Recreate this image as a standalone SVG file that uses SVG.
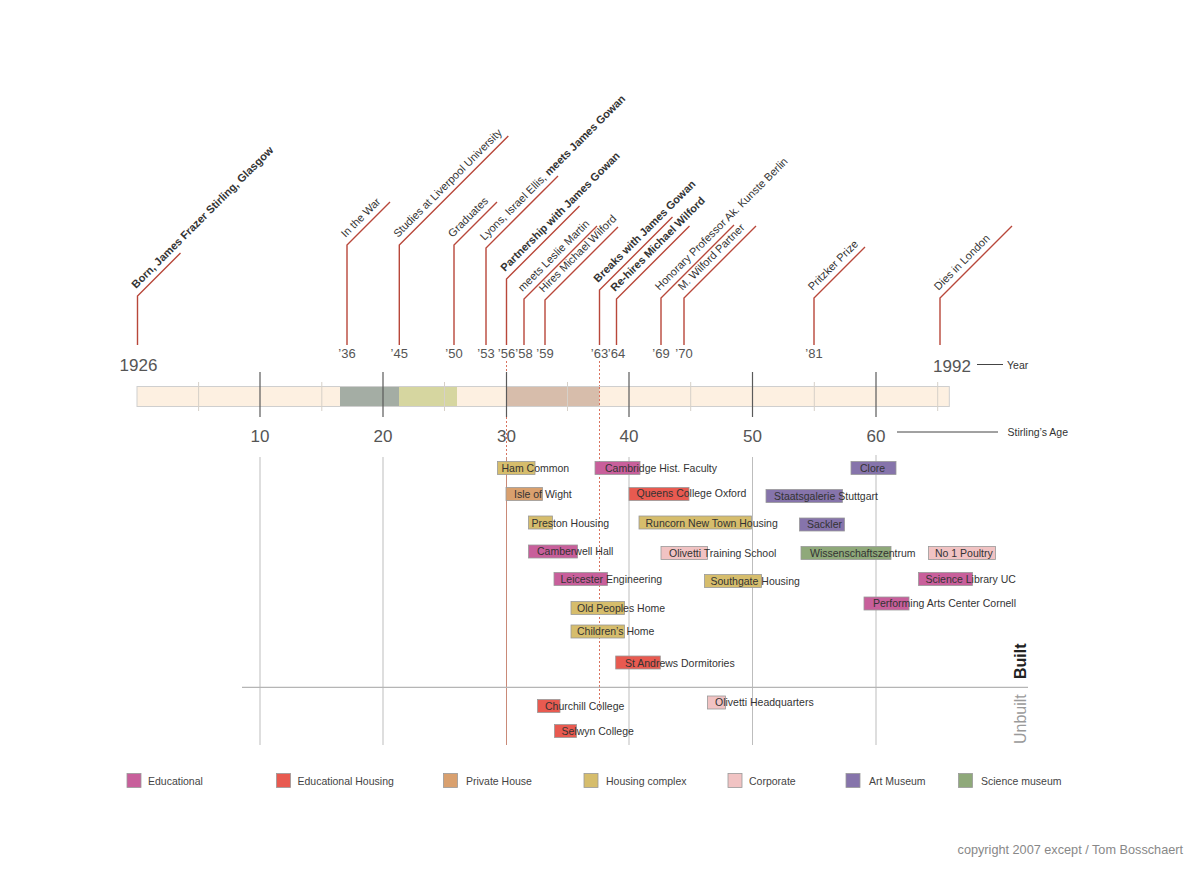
<svg xmlns="http://www.w3.org/2000/svg" width="1200" height="873" viewBox="0 0 1200 873">
<style>
text{font-family:"Liberation Sans",Arial,sans-serif;}
.ev{font-size:11px;fill:#333;}
.b{font-weight:bold;}
.lead{fill:none;stroke:#b8473a;stroke-width:1.4;}
.yr{font-size:13px;fill:#555;text-anchor:middle;}
.big{font-size:17px;fill:#555;text-anchor:middle;}
.lbl{font-size:10.5px;fill:#333;}
.grid{stroke:#bdbdbd;stroke-width:1;}
.tick{stroke:#5a5a5a;stroke-width:1.2;}
.mtick{stroke:#d6d0c8;stroke-width:1;}
.dash{stroke:#d9735f;stroke-width:1;stroke-dasharray:2 2;fill:none;}
.bar{stroke:#9a9a9a;stroke-width:0.8;}
.edu{fill:#c85f9b;}
.eduh{fill:#e85a50;}
.priv{fill:#d9a06e;}
.hous{fill:#d6bd6c;}
.corp{fill:#f1c3c3;}
.art{fill:#8674ab;}
.sci{fill:#8fa97a;}
.leg{font-size:10.5px;fill:#444;}
</style>

<!-- timeline axis -->
<g id="timeline">
  <line class="dash" x1="506.5" y1="361" x2="506.5" y2="458"/>
  <line class="dash" x1="599.5" y1="361" x2="599.5" y2="712"/>
  <rect x="137" y="386.5" width="812.3" height="20" fill="#fdf0e1" stroke="#cfcfcf" stroke-width="1"/>
  <rect x="340" y="387" width="59" height="19" fill="#a4ada4"/>
  <rect x="399" y="387" width="58" height="19" fill="#d6d6a0"/>
  <rect x="506.5" y="387" width="93" height="19" fill="#d7bdab"/>
  <g class="mtick">
    <line x1="198.6" y1="382" x2="198.6" y2="411"/>
    <line x1="321.8" y1="382" x2="321.8" y2="411"/>
    <line x1="444.5" y1="382" x2="444.5" y2="411"/>
    <line x1="567.5" y1="382" x2="567.5" y2="411"/>
    <line x1="690.7" y1="382" x2="690.7" y2="411"/>
    <line x1="814.3" y1="382" x2="814.3" y2="411"/>
    <line x1="937.7" y1="382" x2="937.7" y2="411"/>
  </g>
  <line class="dash" x1="599.5" y1="387" x2="599.5" y2="406"/>
  <g class="tick">
    <line x1="260" y1="372" x2="260" y2="417"/>
    <line x1="383" y1="372" x2="383" y2="417"/>
    <line x1="506.5" y1="372" x2="506.5" y2="417"/>
    <line x1="629" y1="372" x2="629" y2="417"/>
    <line x1="752.5" y1="372" x2="752.5" y2="417"/>
    <line x1="876" y1="372" x2="876" y2="417"/>
  </g>
  <text class="big" x="138.5" y="371">1926</text>
  <text class="big" x="952" y="371.5">1992</text>
  <line x1="977" y1="364.5" x2="1003" y2="364.5" stroke="#444" stroke-width="1"/>
  <text x="1007" y="368.5" font-size="10.5" fill="#333">Year</text>
  <text class="big" x="260" y="441.5">10</text>
  <text class="big" x="383" y="441.5">20</text>
  <text class="big" x="506.5" y="441.5">30</text>
  <text class="big" x="629" y="441.5">40</text>
  <text class="big" x="752.5" y="441.5">50</text>
  <text class="big" x="876" y="441.5">60</text>
  <line x1="897" y1="432" x2="998" y2="432" stroke="#444" stroke-width="1"/>
  <text x="1007.5" y="435.5" font-size="10.5" fill="#333">Stirling’s Age</text>
</g>

<!-- grid below -->
<g id="grid">
  <line class="grid" x1="260" y1="457" x2="260" y2="745"/>
  <line class="grid" x1="383" y1="457" x2="383" y2="745"/>
  <line x1="506.5" y1="457" x2="506.5" y2="745" stroke="#c98a78" stroke-width="1"/>
  <line class="grid" x1="629" y1="457" x2="629" y2="745"/>
  <line class="grid" x1="752.5" y1="457" x2="752.5" y2="745"/>
  <line class="grid" x1="876" y1="455" x2="876" y2="745"/>
  <line x1="242" y1="687.3" x2="1028" y2="687.3" stroke="#b5b5b5" stroke-width="1.2"/>
  <text transform="translate(1026,679) rotate(-90)" font-size="16" font-weight="bold" fill="#222">Built</text>
  <text transform="translate(1025.5,744) rotate(-90)" font-size="16" fill="#9a9a9a">Unbuilt</text>
</g>

<!-- event leader lines -->
<g id="connectors" class="lead">
  <path d="M137.5,345 V296 L180.5,253"/>
  <path d="M347,345 V245 L390,202"/>
  <path d="M399.3,345 V245 L508.3,136"/>
  <path d="M454,345 V245 L497,202"/>
  <path d="M486,345 V248 L558,176"/>
  <path d="M506.5,345 V279 L579.5,206"/>
  <path d="M524,345 V299 L597,226"/>
  <path d="M545,345 V300 L618,227"/>
  <path d="M599.5,345 V290 L672.5,217"/>
  <path d="M616.5,345 V299 L689.5,226"/>
  <path d="M661,345 V298 L734,225"/>
  <path d="M684,345 V298 L756,226"/>
  <path d="M814,345 V298 L865,247"/>
  <path d="M940,345 V298 L1012,226"/>
</g>

<!-- events -->
<g id="ev1926"><text class="ev b" transform="translate(136.1,288.9) rotate(-45)">Born, James Frazer Stirling, Glasgow</text></g>
<g id="ev36"><text class="ev" transform="translate(345.6,237.9) rotate(-45)">In the War</text><text class="yr" x="347" y="358">’36</text></g>
<g id="ev45"><text class="ev" transform="translate(397.9,237.9) rotate(-45)">Studies at Liverpool University</text><text class="yr" x="399.3" y="358">’45</text></g>
<g id="ev50"><text class="ev" transform="translate(452.6,237.9) rotate(-45)">Graduates</text><text class="yr" x="454" y="358">’50</text></g>
<g id="ev53"><text class="ev" transform="translate(484.6,240.9) rotate(-45)">Lyons, Israel Ellis, <tspan class="b">meets James Gowan</tspan></text><text class="yr" x="486" y="358">’53</text></g>
<g id="ev56"><text class="ev b" transform="translate(505.1,271.9) rotate(-45)">Partnership with James Gowan</text><text class="yr" x="506.5" y="358">’56</text></g>
<g id="ev58"><text class="ev" transform="translate(522.6,291.9) rotate(-45)">meets Leslie Martin</text><text class="yr" x="524" y="358">’58</text></g>
<g id="ev59"><text class="ev" transform="translate(543.6,292.9) rotate(-45)">Hires Michael Wilford</text><text class="yr" x="545" y="358">’59</text></g>
<g id="ev63"><text class="ev b" transform="translate(598.1,282.9) rotate(-45)">Breaks with James Gowan</text><text class="yr" x="599.5" y="358">’63</text></g>
<g id="ev64"><text class="ev b" transform="translate(615.1,291.9) rotate(-45)">Re-hires Michael Wilford</text><text class="yr" x="616.5" y="358">’64</text></g>
<g id="ev69"><text class="ev" transform="translate(659.6,290.9) rotate(-45)">Honorary Professor Ak. Kunste Berlin</text><text class="yr" x="661" y="358">’69</text></g>
<g id="ev70"><text class="ev" transform="translate(682.6,290.9) rotate(-45)">M. Wilford Partner</text><text class="yr" x="684" y="358">’70</text></g>
<g id="ev81"><text class="ev" transform="translate(812.6,290.9) rotate(-45)">Pritzker Prize</text><text class="yr" x="814" y="358">’81</text></g>
<g id="ev1992"><text class="ev" transform="translate(938.6,290.9) rotate(-45)">Dies in London</text></g>

<!-- projects -->
<g id="p-ham"><rect class="bar hous" x="497.5" y="461.5" width="37.5" height="13"/><text class="lbl" x="501.5" y="471.5">Ham Common</text></g>
<g id="p-cambridge"><rect class="bar edu" x="595" y="461.5" width="45" height="13"/><text class="lbl" x="605" y="472">Cambridge Hist. Faculty</text></g>
<g id="p-isle"><rect class="bar priv" x="506" y="487.5" width="36.5" height="13"/><text class="lbl" x="514" y="497.5">Isle of Wight</text></g>
<g id="p-queens"><rect class="bar eduh" x="629" y="487.5" width="60" height="13"/><text class="lbl" x="636.5" y="497">Queens College Oxford</text></g>
<g id="p-preston"><rect class="bar hous" x="528.5" y="516" width="24" height="13"/><text class="lbl" x="531.5" y="526.5">Preston Housing</text></g>
<g id="p-runcorn"><rect class="bar hous" x="639" y="516" width="112.5" height="13"/><text class="lbl" x="645.5" y="526.5">Runcorn New Town Housing</text></g>
<g id="p-camberwell"><rect class="bar edu" x="528.5" y="545" width="49" height="13"/><text class="lbl" x="537" y="555">Camberwell Hall</text></g>
<g id="p-olivetti-ts"><rect class="bar corp" x="661" y="546.5" width="46.5" height="13"/><text class="lbl" x="669" y="557">Olivetti Training School</text></g>
<g id="p-leicester"><rect class="bar edu" x="554" y="572.5" width="53.5" height="13"/><text class="lbl" x="560.5" y="582.5">Leicester Engineering</text></g>
<g id="p-southgate"><rect class="bar hous" x="704.5" y="574.5" width="57" height="13"/><text class="lbl" x="710.5" y="584.5">Southgate Housing</text></g>
<g id="p-oldpeoples"><rect class="bar hous" x="571" y="601.5" width="53.5" height="13"/><text class="lbl" x="577" y="612">Old Peoples Home</text></g>
<g id="p-childrens"><rect class="bar hous" x="571" y="625" width="53.5" height="13"/><text class="lbl" x="577" y="635">Children’s Home</text></g>
<g id="p-clore"><rect class="bar art" x="851" y="461.5" width="45" height="13"/><text class="lbl" x="860" y="471.5">Clore</text></g>
<g id="p-staatsgalerie"><rect class="bar art" x="766" y="489.5" width="76.5" height="13"/><text class="lbl" x="774" y="499.5">Staatsgalerie Stuttgart</text></g>
<g id="p-sackler"><rect class="bar art" x="799.5" y="518" width="45" height="13"/><text class="lbl" x="807" y="528">Sackler</text></g>
<g id="p-wissenschaft"><rect class="bar sci" x="801" y="546.5" width="90" height="13"/><text class="lbl" x="810" y="557">Wissenschaftszentrum</text></g>
<g id="p-poultry"><rect class="bar corp" x="928.5" y="546.5" width="67" height="13"/><text class="lbl" x="935" y="557">No 1 Poultry</text></g>
<g id="p-sciencelib"><rect class="bar edu" x="918.5" y="572.5" width="54" height="13"/><text class="lbl" x="925.5" y="582.5">Science Library UC</text></g>
<g id="p-cornell"><rect class="bar edu" x="864" y="597" width="45" height="13"/><text class="lbl" x="873" y="607">Performing Arts Center Cornell</text></g>
<g id="p-standrews"><rect class="bar eduh" x="615.7" y="656" width="44.6" height="13"/><text class="lbl" x="625" y="666.5">St Andrews Dormitories</text></g>
<g id="p-churchill"><rect class="bar eduh" x="537.5" y="699.5" width="22.5" height="13"/><text class="lbl" x="545" y="710">Churchill College</text></g>
<g id="p-selwyn"><rect class="bar eduh" x="554.5" y="724.5" width="22" height="13"/><text class="lbl" x="561.5" y="735">Selwyn College</text></g>
<g id="p-olivetti-hq"><rect class="bar corp" x="707.5" y="696" width="18" height="13"/><text class="lbl" x="715" y="706">Olivetti Headquarters</text></g>

<!-- legend -->
<g id="legend">
  <rect class="bar edu" x="127" y="773.5" width="14" height="14"/><text class="leg" x="148" y="784.5">Educational</text>
  <rect class="bar eduh" x="276.5" y="773.5" width="14" height="14"/><text class="leg" x="297.5" y="784.5">Educational Housing</text>
  <rect class="bar priv" x="443.5" y="773.5" width="14" height="14"/><text class="leg" x="466" y="784.5">Private House</text>
  <rect class="bar hous" x="584" y="773.5" width="14" height="14"/><text class="leg" x="606" y="784.5">Housing complex</text>
  <rect class="bar corp" x="728" y="773.5" width="14" height="14"/><text class="leg" x="749" y="784.5">Corporate</text>
  <rect class="bar art" x="846" y="773.5" width="14" height="14"/><text class="leg" x="869" y="784.5">Art Museum</text>
  <rect class="bar sci" x="958.5" y="773.5" width="14" height="14"/><text class="leg" x="981" y="784.5">Science museum</text>
</g>
<text x="1183" y="854" font-size="12.7" fill="#888" text-anchor="end">copyright 2007 except / Tom Bosschaert</text>
</svg>
